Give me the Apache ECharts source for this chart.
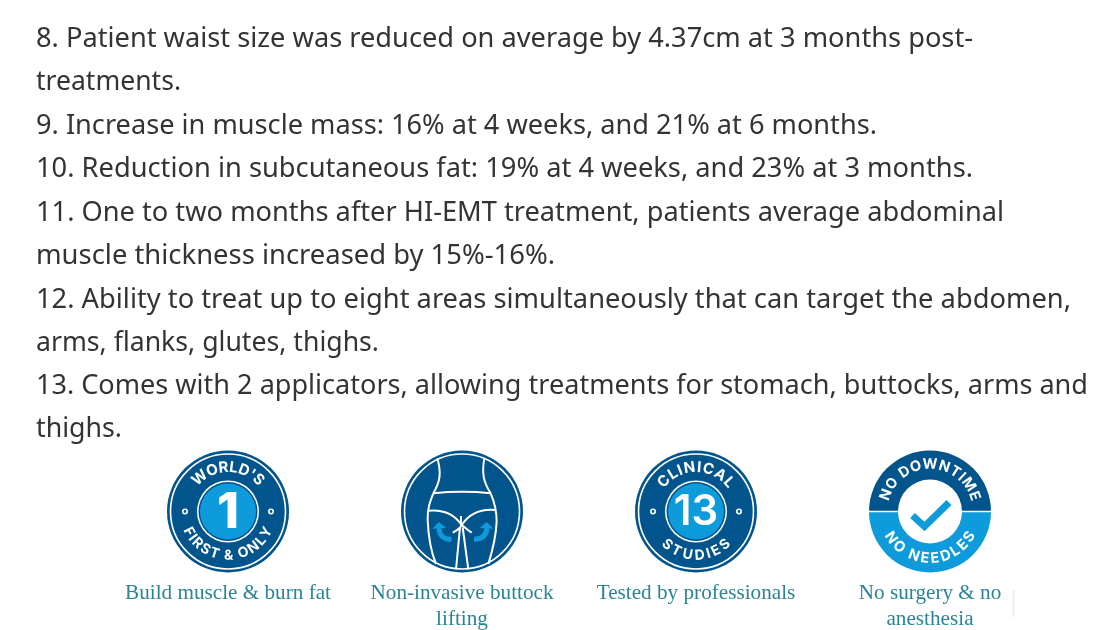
<!DOCTYPE html>
<html>
<head>
<meta charset="utf-8">
<style>
html, body { margin: 0; padding: 0; background: #fff; }
#main { width: 1120px; height: 630px; }
</style>
<script src="https://cdn.jsdelivr.net/npm/echarts@6/dist/echarts.min.js"></script>
</head>
<body>
<div id="main"></div>
<script>
const listLines = [
    '8. Patient waist size was reduced on average by 4.37cm at 3 months post-',
    'treatments.',
    '9. Increase in muscle mass: 16% at 4 weeks, and 21% at 6 months.',
    '10. Reduction in subcutaneous fat: 19% at 4 weeks, and 23% at 3 months.',
    '11. One to two months after HI-EMT treatment, patients average abdominal',
    'muscle thickness increased by 15%-16%.',
    '12. Ability to treat up to eight areas simultaneously that can target the abdomen,',
    'arms, flanks, glutes, thighs.',
    '13. Comes with 2 applicators, allowing treatments for stomach, buttocks, arms and',
    'thighs.'
];
const lineCentres = [38, 81, 125, 168, 212, 255, 299, 342, 385, 428];
// where each line ends in the reference, the font is squeezed a little to fit
const lineEnds = [973, 181, 877, 973, 1004, 555, 1071, 379, 1088, 122];
const captions = [
    ['Build muscle & burn fat'],
    ['Non-invasive buttock', 'lifting'],
    ['Tested by professionals'],
    ['No surgery & no', 'anesthesia']
];
const badgeCentres = [228, 462, 696, 930];

const DARK = '#02548c';
const BLUE = '#0d9bdc';
const BADGE_FONT = 'Inter';
const cy = 511.5;
const measure = document.createElement('canvas').getContext('2d');

// letters laid out one by one along an arc
function arcText(cx, text, r, halfDeg, size, isBottom) {
    measure.font = '700 ' + size + 'px ' + BADGE_FONT;
    const widths = text.split('').map(c => measure.measureText(c).width);
    const total = widths.reduce((a, b) => a + b, 0);
    const arc = 2 * r * halfDeg * Math.PI / 180;
    const gap = (arc - total) / (text.length - 1);
    const out = [];
    let pos = -arc / 2;
    text.split('').forEach((c, i) => {
        const a = (pos + widths[i] / 2) / r;
        out.push({
            type: 'text',
            x: cx + r * Math.sin(a),
            y: isBottom ? cy + r * Math.cos(a) : cy - r * Math.cos(a),
            rotation: isBottom ? a : -a,
            style: {
                text: c, fill: '#fff', fontFamily: BADGE_FONT, fontWeight: 700, fontSize: size,
                align: 'center', verticalAlign: 'middle'
            }
        });
        pos += widths[i] + gap;
    });
    return out;
}

function circle(cx, r, fill, stroke, lw) {
    return {
        type: 'circle',
        shape: { cx: cx, cy: cy, r: r },
        style: { fill: fill || 'none', stroke: stroke || 'none', lineWidth: lw || 0 }
    };
}

function centreText(x, y, text, size, weight) {
    return {
        type: 'text', x: x, y: y,
        style: {
            text: text, fill: '#fff', fontFamily: BADGE_FONT, fontWeight: weight, fontSize: size,
            align: 'center', verticalAlign: 'middle'
        }
    };
}

function ringBadge(cx, number, numberSize, numberWeight, top, topHalf, bottom, bottomHalf) {
    return [
        circle(cx, 61, DARK),
        circle(cx, 57.5, null, '#fff', 1.6),
        circle(cx, 31, '#fff'),
        circle(cx, 29.5, DARK),
        circle(cx, 28, BLUE),
        circle(cx - 43, 2.2, DARK, '#fff', 1.6),
        circle(cx + 43, 2.2, DARK, '#fff', 1.6),
        centreText(cx, cy + 1, number, numberSize, numberWeight)
    ].concat(arcText(cx, top, 44, topHalf, 15, false), arcText(cx, bottom, 44, bottomHalf, 14, true));
}

// "M x y C ... L ... " into bezierCurve and line elements
function strokePath(d, stroke, lw) {
    const tokens = d.trim().split(/\s+/);
    const out = [];
    let px = 0, py = 0, i = 0, cmd = '';
    const style = { fill: 'none', stroke: stroke, lineWidth: lw };
    while (i < tokens.length) {
        if (/^[MCL]$/.test(tokens[i])) {
            cmd = tokens[i++];
        }
        if (cmd === 'M') {
            px = +tokens[i++];
            py = +tokens[i++];
        } else if (cmd === 'L') {
            const x = +tokens[i++], y = +tokens[i++];
            out.push({ type: 'line', shape: { x1: px, y1: py, x2: x, y2: y }, style: style });
            px = x; py = y;
        } else {
            const c = tokens.slice(i, i + 6).map(Number);
            i += 6;
            out.push({
                type: 'bezierCurve',
                shape: { x1: px, y1: py, cpx1: c[0], cpy1: c[1], cpx2: c[2], cpy2: c[3], x2: c[4], y2: c[5] },
                style: style
            });
            px = c[4]; py = c[5];
        }
    }
    return out;
}

function bodyBadge(cx) {
    const paths = [
        'M 862 55 C 875 100 870 125 850 160 C 840 185 832 205 833 240 C 835 290 845 340 858 372',
        'M 1003 55 C 995 100 1000 125 1022 160 C 1035 190 1040 210 1040 245 C 1038 290 1025 340 1015 372',
        'M 850 160 C 900 155 975 155 1022 160',
        'M 835 212 C 880 208 915 225 935 255 C 955 225 990 205 1038 210',
        'M 933 228 L 933 258',
        'M 930 262 L 918 388',
        'M 938 262 L 955 388',
        'M 908 278 C 920 272 930 265 935 255 C 945 262 952 270 965 278'
    ];
    const arrows = [
        'M 905 298 C 878 298 866 282 868 264',
        'M 972 298 C 998 298 1012 282 1010 264'
    ];
    const heads = [
        [[847, 266], [866, 246], [889, 264]],
        [[989, 264], [1010, 246], [1030, 266]]
    ];
    let children = [];
    paths.forEach(d => { children = children.concat(strokePath(d, '#fff', 6)); });
    arrows.forEach(d => { children = children.concat(strokePath(d, BLUE, 15)); });
    heads.forEach(p => {
        children.push({ type: 'polygon', shape: { points: p }, style: { fill: BLUE } });
    });
    return [
        circle(cx, 61, DARK),
        circle(cx, 57.5, null, '#fff', 1.6),
        {
            type: 'group',
            x: 150 + cx - 462,
            y: 440,
            scaleX: 1 / 3,
            scaleY: 1 / 3,
            children: children
        }
    ];
}

function splitBadge(cx) {
    return [
        {
            type: 'sector',
            shape: { cx: cx, cy: cy, r: 61, startAngle: Math.PI, endAngle: 2 * Math.PI },
            style: { fill: DARK }
        },
        {
            type: 'sector',
            shape: { cx: cx, cy: cy, r: 61, startAngle: 0, endAngle: Math.PI },
            style: { fill: BLUE }
        },
        {
            type: 'rect',
            shape: { x: cx - 61, y: cy - 0.8, width: 122, height: 1.6 },
            style: { fill: '#fff' }
        },
        circle(cx, 32, '#fff'),
        {
            type: 'polyline',
            shape: { points: [[cx - 17.5, cy + 4], [cx - 5.5, cy + 15], [cx + 19, cy - 9]] },
            style: { fill: 'none', stroke: BLUE, lineWidth: 7 }
        }
    ].concat(arcText(cx, 'NO DOWNTIME', 47, 76, 14.5, false), arcText(cx, 'NO NEEDLES', 47, 63, 14.5, true));
}

const elements = [];

measure.font = '27.2px "Noto Sans"';
listLines.forEach((text, i) => {
    elements.push({
        type: 'text', x: 36, y: lineCentres[i] + 1.5,
        scaleX: (lineEnds[i] - 36) / measure.measureText(text).width,
        style: {
            text: text, fill: '#333', fontFamily: 'Noto Sans', fontSize: 27.2,
            align: 'left', verticalAlign: 'middle'
        }
    });
});

elements.push(...ringBadge(badgeCentres[0], '1', 50, 800, "WORLD'S", 50, 'FIRST & ONLY', 68));
elements.push(...bodyBadge(badgeCentres[1]));
elements.push(...ringBadge(badgeCentres[2], '13', 42, 600, 'CLINICAL', 54, 'STUDIES', 47));
elements.push(...splitBadge(badgeCentres[3]));

captions.forEach((rows, i) => {
    rows.forEach((text, j) => {
        elements.push({
            type: 'text', x: badgeCentres[i], y: 593 + j * 26,
            style: {
                text: text, fill: '#2a8494', fontFamily: 'Liberation Serif', fontSize: 21.2,
                align: 'center', verticalAlign: 'middle'
            }
        });
    });
});

// faint smudge at the right of the last caption
elements.push({
    type: 'rect',
    shape: { x: 1012, y: 590, width: 3, height: 27 },
    style: { fill: '#f0f4f9' }
});

const chart = echarts.init(document.getElementById('main'));
chart.setOption({
    animation: false,
    backgroundColor: '#fff',
    graphic: { elements: elements }
});
</script>
</body>
</html>
